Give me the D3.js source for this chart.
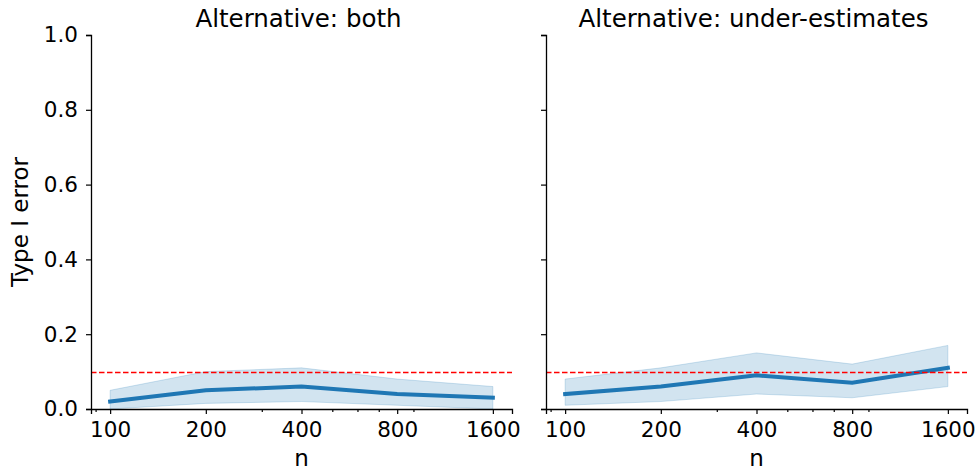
<!DOCTYPE html>
<html>
<head>
<meta charset="utf-8">
<script src="https://cdn.jsdelivr.net/npm/d3@7"></script>
<style>
  body { margin: 0; background: #fff; }
  text { font-family: "DejaVu Sans", sans-serif; fill: #000; }
</style>
</head>
<body>
<script>
// Data
var nValues = [100, 200, 400, 800, 1600];
var panelTitles = ["Alternative: both", "Alternative: under-estimates"];
var bothMean = [0.02, 0.05, 0.06, 0.04, 0.03];
var bothLow = [0.0, 0.015, 0.02, 0.01, 0.0];
var bothHigh = [0.05, 0.10, 0.11, 0.08, 0.06];
var underMean = [0.04, 0.06, 0.09, 0.07, 0.11];
var underLow = [0.01, 0.02, 0.04, 0.03, 0.06];
var underHigh = [0.08, 0.11, 0.15, 0.12, 0.17];
var yTicks = [0, 0.2, 0.4, 0.6, 0.8, 1.0];
var minorTicks = [90, 300, 500, 600, 700, 900];
var alphaLevel = 0.1;

// SVG area
var svgWidth = 978;
var svgHeight = 471;

var svg = d3.select("body")
  .append("svg")
  .attr("width", svgWidth)
  .attr("height", svgHeight);

// panel positions
var panelLeft = [91, 546];
var panelWidth = 421;
var plotTop = 35;
var plotBottom = 409;

var panels = [
  { title: panelTitles[0], mean: bothMean, low: bothLow, high: bothHigh },
  { title: panelTitles[1], mean: underMean, low: underLow, high: underHigh }
];

var yScale = d3.scaleLinear()
  .domain([0, 1])
  .range([plotBottom, plotTop]);

panels.forEach(function(p, i) {
  var x0 = panelLeft[i];
  var xScale = d3.scaleLog()
    .base(2)
    .domain([nValues[0] / Math.pow(2, 0.2), nValues[nValues.length - 1] * Math.pow(2, 0.2)])
    .range([x0, x0 + panelWidth]);

  var rows = nValues.map((n, j) => ({ n: n, mean: p.mean[j], low: p.low[j], high: p.high[j] }));

  var g = svg.append("g");

  // confidence band
  var area = d3.area()
    .x(d => xScale(d.n))
    .y0(d => yScale(d.low))
    .y1(d => yScale(d.high));

  g.append("path")
    .datum(rows)
    .attr("d", area)
    .attr("fill", "#1f77b4")
    .attr("fill-opacity", 0.2)
    .attr("stroke", "#1f77b4")
    .attr("stroke-opacity", 0.2)
    .attr("stroke-width", 1);

  // mean line
  var line = d3.line()
    .x(d => xScale(d.n))
    .y(d => yScale(d.mean));

  g.append("path")
    .datum(rows)
    .attr("d", line)
    .attr("fill", "none")
    .attr("stroke", "#1f77b4")
    .attr("stroke-width", 4)
    .attr("stroke-linecap", "square");

  // nominal level
  var yAlpha = Math.round(yScale(alphaLevel)) + 0.5;
  g.append("line")
    .attr("x1", x0)
    .attr("x2", x0 + panelWidth)
    .attr("y1", yAlpha)
    .attr("y2", yAlpha)
    .attr("stroke", "#ff0000")
    .attr("stroke-width", 1.5)
    .attr("stroke-dasharray", "5.5,2.5");

  // x axis (major + minor ticks)
  var bottomAxis = d3.axisBottom(xScale)
    .tickValues(nValues)
    .tickFormat(d3.format("d"))
    .tickSize(5)
    .tickPadding(8);

  var xAxis = g.append("g")
    .attr("transform", `translate(0, ${plotBottom})`)
    .call(bottomAxis);
  xAxis.selectAll("text").attr("font-size", 21.5);

  var minorAxis = d3.axisBottom(xScale)
    .tickValues(minorTicks)
    .tickFormat("")
    .tickSize(3);

  g.append("g")
    .attr("transform", `translate(0, ${plotBottom})`)
    .call(minorAxis)
    .select(".domain").remove();

  // y axis
  var leftAxis = d3.axisLeft(yScale)
    .tickValues(yTicks)
    .tickFormat(i === 0 ? d3.format(".1f") : "")
    .tickSize(5)
    .tickPadding(8);

  var yAxis = g.append("g")
    .attr("transform", `translate(${x0}, 0)`)
    .call(leftAxis);
  yAxis.selectAll("text").attr("font-size", 21.5);

  svg.selectAll(".domain").attr("stroke-width", 1.3);
  svg.selectAll(".tick line").attr("stroke-width", 1.2);

  // title
  g.append("text")
    .attr("x", x0 + panelWidth / 2 - 3)
    .attr("y", 27)
    .attr("text-anchor", "middle")
    .attr("font-size", 24.5)
    .text(p.title);

  // x label
  g.append("text")
    .attr("x", x0 + panelWidth / 2)
    .attr("y", 466)
    .attr("text-anchor", "middle")
    .attr("font-size", 23)
    .text("n");
});

// shared y label
svg.append("text")
  .attr("transform", "translate(28, 222) rotate(-90)")
  .attr("text-anchor", "middle")
  .attr("font-size", 23)
  .text("Type I error");
</script>
</body>
</html>
